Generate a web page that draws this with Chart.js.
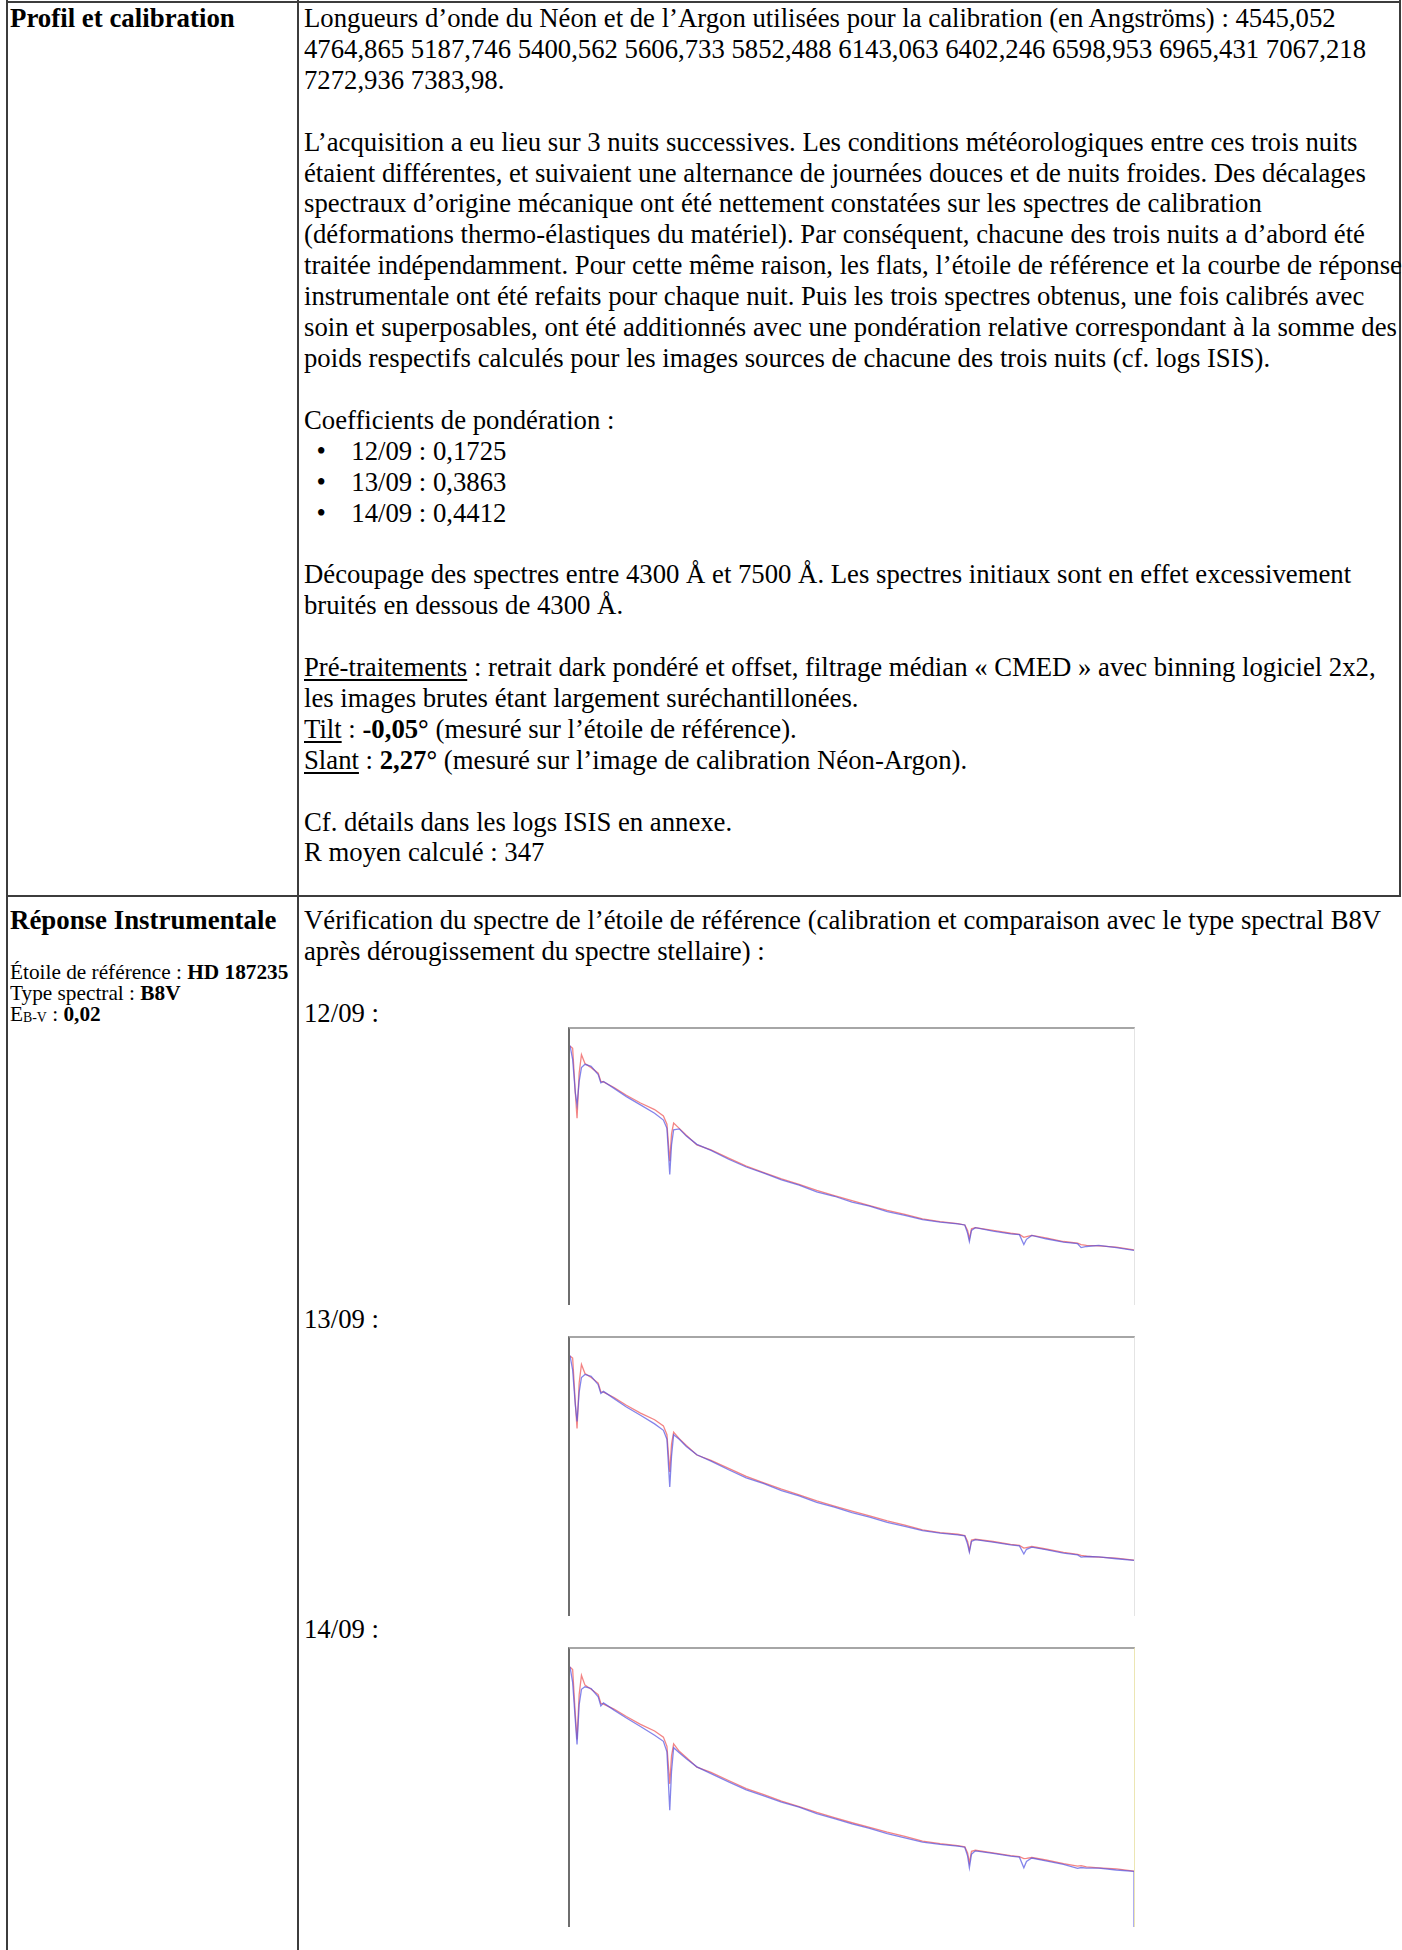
<!DOCTYPE html>
<html lang="fr">
<head>
<meta charset="utf-8">
<script src="https://cdn.jsdelivr.net/npm/chart.js@4.4.1/dist/chart.umd.min.js"></script>
<style>
  html, body { margin:0; padding:0; background:#fff; }
  body { width:1402px; height:1950px; position:relative; overflow:hidden;
         font-family:"Liberation Serif","Times New Roman",serif; color:#000; }
  .v { position:absolute; top:0; width:2px; height:1950px; background:#3c3c3c; }
  .h { position:absolute; left:6px; width:1395px; height:2px; background:#3c3c3c; }
  .txt { position:absolute; font-size:27.7px; line-height:30.9px; white-space:nowrap;
         transform:scaleX(0.965); transform-origin:0 0; }
  .ttl { position:absolute; font-size:27.7px; line-height:30.9px; white-space:nowrap;
         transform:scaleX(0.97); transform-origin:0 0; }
  .small { position:absolute; font-size:21.5px; line-height:21px; white-space:nowrap;
           transform:scaleX(0.99); transform-origin:0 0; }
  .bl { display:inline-block; margin-left:13px; width:36px; }
  u { text-decoration-thickness:1.5px; text-underline-offset:3px; }
  .frame { position:absolute; box-sizing:border-box; border-top:2px solid #a6a6a6;
           border-left:2px solid #6e6e6e; border-right:1px solid #e4e4e4; background:#fff; }
  .frame canvas { display:block; }
  sub { font-size:14px; vertical-align:baseline; position:relative; top:1px; }
</style>
</head>
<body>
<!-- table rules -->
<div class="h" style="top:1px"></div>
<div class="h" style="top:895px"></div>
<div class="v" style="left:6px"></div>
<div class="v" style="left:297px"></div>
<div class="v" style="left:1399px;height:897px"></div>

<!-- row 1 -->
<div class="ttl" style="left:10px;top:3px"><b>Profil et calibration</b></div>
<div class="txt" style="left:304px;top:3px">
Longueurs d’onde du Néon et de l’Argon utilisées pour la calibration (en Angströms) : 4545,052<br>
4764,865 5187,746 5400,562 5606,733 5852,488 6143,063 6402,246 6598,953 6965,431 7067,218<br>
7272,936 7383,98.<br>
<br>
L’acquisition a eu lieu sur 3 nuits successives. Les conditions météorologiques entre ces trois nuits<br>
étaient différentes, et suivaient une alternance de journées douces et de nuits froides. Des décalages<br>
spectraux d’origine mécanique ont été nettement constatées sur les spectres de calibration<br>
(déformations thermo-élastiques du matériel). Par conséquent, chacune des trois nuits a d’abord été<br>
traitée indépendamment. Pour cette même raison, les flats, l’étoile de référence et la courbe de réponse<br>
instrumentale ont été refaits pour chaque nuit. Puis les trois spectres obtenus, une fois calibrés avec<br>
soin et superposables, ont été additionnés avec une pondération relative correspondant à la somme des<br>
poids respectifs calculés pour les images sources de chacune des trois nuits (cf. logs ISIS).<br>
<br>
Coefficients de pondération :<br>
<span class="bl">•</span>12/09 : 0,1725<br>
<span class="bl">•</span>13/09 : 0,3863<br>
<span class="bl">•</span>14/09 : 0,4412<br>
<br>
Découpage des spectres entre 4300 Å et 7500 Å. Les spectres initiaux sont en effet excessivement<br>
bruités en dessous de 4300 Å.<br>
<br>
<u>Pré-traitements</u> : retrait dark pondéré et offset, filtrage médian « CMED » avec binning logiciel 2x2,<br>
les images brutes étant largement suréchantillonées.<br>
<u>Tilt</u> : <b>-0,05°</b> (mesuré sur l’étoile de référence).<br>
<u>Slant</u> : <b>2,27°</b> (mesuré sur l’image de calibration Néon-Argon).<br>
<br>
Cf. détails dans les logs ISIS en annexe.<br>
R moyen calculé : 347
</div>

<!-- row 2 -->
<div class="ttl" style="left:10px;top:905px"><b>Réponse Instrumentale</b></div>
<div class="small" style="left:10px;top:962px">
Étoile de référence : <b>HD 187235</b><br>
Type spectral : <b>B8V</b><br>
E<sub>B-V</sub> : <b>0,02</b>
</div>
<div class="txt" style="left:304px;top:905px">
Vérification du spectre de l’étoile de référence (calibration et comparaison avec le type spectral B8V<br>
après dérougissement du spectre stellaire) :<br>
<br>
12/09 :
</div>
<div class="txt" style="left:304px;top:1304px">13/09 :</div>
<div class="txt" style="left:304px;top:1614px">14/09 :</div>

<div class="frame" style="left:568px;top:1027px;width:567px;height:278px"><canvas id="c1"></canvas></div>
<div class="frame" style="left:568px;top:1336px;width:567px;height:280px"><canvas id="c2"></canvas></div>
<div class="frame" style="left:568px;top:1647px;width:567px;height:280px;border-right-color:#ece6b4"><canvas id="c3"></canvas></div>

<script>
// Wavelength grid (Å)
const wl = [4300,4315,4330,4340,4352,4365,4385,4420,4460,4475,4490,4550,4620,4700,4780,4830,4850,4866,4876,4888,
            4920,4960,5020,5100,5200,5300,5400,5500,5600,5700,5800,5900,6000,6100,6200,6300,6400,6500,6540,6556,
            6566,6578,6600,6700,6800,6850,6875,6890,6920,7000,7100,7180,7200,7230,7300,7400,7500];

// Night 12/09 — reference B8V (red) and observed (blue), relative flux
const model1 = [0.938,0.930,0.770,0.677,0.840,0.907,0.875,0.860,0.840,0.810,0.808,0.788,0.760,0.732,0.708,0.685,0.655,0.521,0.620,0.659,
                0.640,0.615,0.580,0.562,0.532,0.503,0.480,0.457,0.437,0.415,0.396,0.378,0.360,0.343,0.328,0.312,0.302,0.295,0.290,0.270,
                0.240,0.276,0.280,0.270,0.260,0.256,0.245,0.248,0.252,0.243,0.230,0.224,0.219,0.216,0.214,0.210,0.200];
const obs1   = [0.940,0.890,0.770,0.725,0.810,0.860,0.872,0.865,0.835,0.805,0.810,0.785,0.755,0.725,0.695,0.670,0.640,0.473,0.580,0.635,
                0.638,0.612,0.582,0.560,0.528,0.500,0.478,0.453,0.434,0.410,0.394,0.373,0.358,0.338,0.325,0.309,0.300,0.294,0.290,0.260,
                0.230,0.270,0.280,0.268,0.258,0.255,0.219,0.238,0.252,0.240,0.228,0.222,0.208,0.212,0.216,0.208,0.198];

// Night 13/09
const model2 = [0.935,0.928,0.768,0.675,0.838,0.905,0.872,0.858,0.838,0.806,0.805,0.786,0.758,0.730,0.706,0.684,0.652,0.518,0.618,0.661,
                0.638,0.613,0.579,0.560,0.531,0.502,0.479,0.456,0.436,0.414,0.395,0.377,0.360,0.342,0.327,0.310,0.300,0.294,0.289,0.268,
                0.235,0.273,0.276,0.268,0.258,0.254,0.244,0.246,0.250,0.241,0.229,0.222,0.218,0.215,0.212,0.208,0.201];
const obs2   = [0.937,0.885,0.760,0.700,0.805,0.858,0.869,0.862,0.832,0.801,0.808,0.782,0.752,0.722,0.691,0.668,0.636,0.464,0.575,0.652,
                0.636,0.610,0.580,0.557,0.526,0.497,0.476,0.451,0.432,0.409,0.392,0.372,0.356,0.337,0.322,0.307,0.298,0.292,0.288,0.258,
                0.230,0.268,0.275,0.266,0.256,0.252,0.223,0.240,0.248,0.239,0.226,0.220,0.212,0.214,0.213,0.206,0.200];

// Night 14/09
const model3 = [0.935,0.926,0.765,0.675,0.836,0.905,0.870,0.855,0.836,0.804,0.802,0.784,0.757,0.729,0.705,0.683,0.650,0.515,0.615,0.659,
                0.632,0.610,0.575,0.556,0.527,0.498,0.476,0.453,0.433,0.412,0.393,0.375,0.358,0.341,0.326,0.309,0.300,0.293,0.288,0.266,
                0.231,0.272,0.276,0.267,0.257,0.253,0.246,0.247,0.250,0.241,0.228,0.219,0.221,0.216,0.213,0.209,0.201];
const obs3   = [0.936,0.880,0.745,0.657,0.800,0.855,0.864,0.858,0.828,0.795,0.806,0.780,0.752,0.721,0.690,0.668,0.630,0.420,0.560,0.645,
                0.627,0.605,0.576,0.552,0.522,0.493,0.472,0.449,0.431,0.408,0.390,0.371,0.355,0.336,0.321,0.305,0.297,0.291,0.287,0.255,
                0.213,0.262,0.274,0.265,0.255,0.251,0.213,0.236,0.248,0.238,0.225,0.211,0.214,0.212,0.212,0.205,0.200,0.000];
const wlObs3 = wl.concat([7500]);

const xMin = 4300, xMax = 7500;
const yMin = 0, yMax = 1;

function toXY(xs, ys) { return ys.map((y, i) => ({ x: xs[i], y: y })); }

function makeChart(id, xsObs, obs, model) {
  const canvas = document.getElementById(id);
  const box = canvas.parentElement;
  const w = box.clientWidth, h = box.clientHeight;
  canvas.width = w; canvas.height = h;
  canvas.style.width = w + 'px'; canvas.style.height = h + 'px';
  new Chart(canvas, {
    type: 'line',
    data: {
      datasets: [
        { label: 'Observé', data: toXY(xsObs, obs), borderColor: 'rgba(80,80,225,0.7)', borderWidth: 1.3,
          pointRadius: 0, tension: 0, fill: false },
        { label: 'B8V', data: toXY(wl, model), borderColor: 'rgba(238,80,80,0.7)', borderWidth: 1.3,
          pointRadius: 0, tension: 0, fill: false }
      ]
    },
    options: {
      responsive: false, animation: false, devicePixelRatio: 1,
      layout: { padding: 0 },
      plugins: { legend: { display: false }, tooltip: { enabled: false } },
      scales: {
        x: { type: 'linear', min: xMin, max: xMax, display: false },
        y: { type: 'linear', min: yMin, max: yMax, display: false }
      }
    }
  });
}

makeChart('c1', wl, obs1, model1);
makeChart('c2', wl, obs2, model2);
makeChart('c3', wlObs3, obs3, model3);
</script>
</body>
</html>
